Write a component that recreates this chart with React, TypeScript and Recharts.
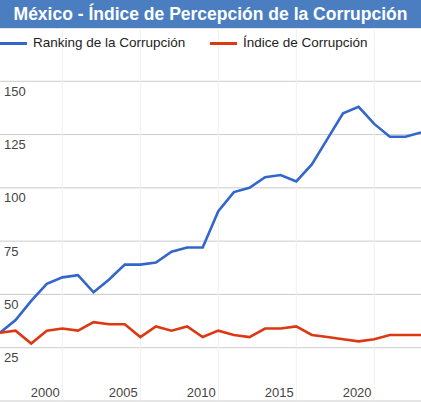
import { LineChart, Line, XAxis, YAxis, CartesianGrid, ReferenceLine } from "recharts";

const years = [
  1997, 1998, 1999, 2000, 2001, 2002, 2003, 2004, 2005, 2006, 2007, 2008, 2009, 2010,
  2011, 2012, 2013, 2014, 2015, 2016, 2017, 2018, 2019, 2020, 2021, 2022, 2023, 2024,
];
const ranking = [
  32, 38, 47, 55, 58, 59, 51, 57, 64, 64, 65, 70, 72, 72,
  89, 98, 100, 105, 106, 103, 111, 123, 135, 138, 130, 124, 124, 126,
];
const indice = [
  32, 33, 27, 33, 34, 33, 37, 36, 36, 30, 35, 33, 35, 30,
  33, 31, 30, 34, 34, 35, 31, 30, 29, 28, 29, 31, 31, 31,
];
const xTicks = [2000, 2005, 2010, 2015, 2020];
const yTicks = [0, 25, 50, 75, 100, 125, 150, 175];
const yLabels = [25, 50, 75, 100, 125, 150];
const gridYears = [2001, 2006, 2011, 2016, 2021];

const W = 421;
const H = 402;
const FONT = '"Liberation Sans", Arial, sans-serif';
const BLUE = "#3366cc";
const RED = "#dc3912";

const data = years.map((year, i) => ({ year, ranking: ranking[i], indice: indice[i] }));

const renderXTick = (props: any) => (
  <text
    key={`x-${props.payload.value}`}
    x={props.x - 1.5}
    y={397}
    textAnchor="middle"
    fontSize={13}
    fill="#444"
    fontFamily={FONT}
  >
    {props.payload.value}
  </text>
);

const renderYTick = (props: any) =>
  yLabels.includes(props.payload.value) ? (
    <text
      key={`y-${props.payload.value}`}
      x={4}
      y={props.y + 14.5}
      textAnchor="start"
      fontSize={13}
      fill="#444"
      fontFamily={FONT}
    >
      {props.payload.value}
    </text>
  ) : (
    <g key={`y-${props.payload.value}`} />
  );

export default function App() {
  return (
    <div style={{ position: "relative", width: W, height: H, background: "#fff", overflow: "hidden" }}>
      <style>{"body{margin:0}"}</style>
      <LineChart width={W} height={H} data={data} margin={{ top: 28, right: 0, bottom: 0, left: -1 }}>
        <CartesianGrid vertical={false} stroke="#cccccc" strokeWidth={1} />
        {gridYears.map((yr) => (
          <ReferenceLine key={yr} x={yr} stroke="#f0f0f0" strokeWidth={1} />
        ))}
        <XAxis
          dataKey="year"
          type="number"
          domain={[1997, 2024]}
          ticks={xTicks}
          height={1}
          axisLine={false}
          tickLine={false}
          tick={renderXTick}
          interval={0}
        />
        <YAxis
          type="number"
          domain={[0, 175]}
          ticks={yTicks}
          width={1}
          axisLine={false}
          tickLine={false}
          tick={renderYTick}
          interval={0}
        />
        <Line
          type="linear"
          dataKey="ranking"
          stroke={BLUE}
          strokeWidth={2.6}
          dot={false}
          isAnimationActive={false}
        />
        <Line
          type="linear"
          dataKey="indice"
          stroke={RED}
          strokeWidth={2.6}
          dot={false}
          isAnimationActive={false}
        />
      </LineChart>
      <div
        style={{
          position: "absolute",
          left: 0,
          top: 0,
          width: W,
          height: 28,
          background: "#4a7ec1",
          color: "#fff",
          fontFamily: FONT,
          fontWeight: "bold",
          fontSize: 17.5,
          lineHeight: "28px",
          textAlign: "center",
        }}
      >
        México - Índice de Percepción de la Corrupción
      </div>
      <div style={{ position: "absolute", left: 0, top: 33, width: W, height: 20, fontFamily: FONT, fontSize: 13.5, color: "#222" }}>
        <div style={{ position: "absolute", left: 0, top: 9, width: 27, height: 3, background: BLUE }} />
        <span style={{ position: "absolute", left: 33, top: 2 }}>Ranking de la Corrupción</span>
        <div style={{ position: "absolute", left: 210, top: 9, width: 27, height: 3, background: RED }} />
        <span style={{ position: "absolute", left: 243, top: 2 }}>Índice de Corrupción</span>
      </div>
    </div>
  );
}
